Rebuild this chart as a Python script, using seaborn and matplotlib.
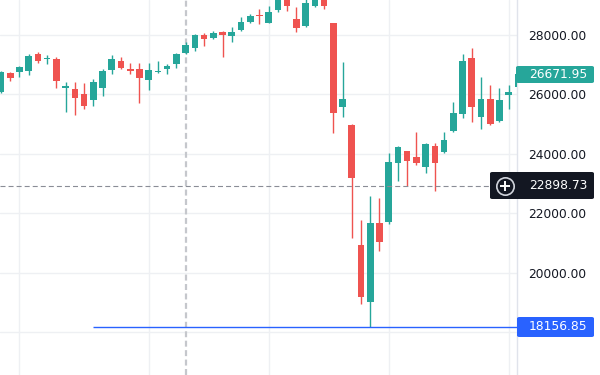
import matplotlib
matplotlib.use("Agg")
import matplotlib.pyplot as plt
from matplotlib.patches import FancyBboxPatch
from matplotlib.lines import Line2D
import seaborn as sns

# OHLC (one value per candle, left to right)
opens = [26080, 26718, 26752, 26786, 27359, 27180, 27190, 26230, 26178, 26010,
         25807, 26212, 26819, 27123, 26853, 26853, 26482, 26740, 26853, 27022,
         27393, 27562, 28000, 27899, 28101, 27966, 28169, 28438, 28650, 28405,
         28843, 29300, 28540, 28304, 28978, 29280, 28405, 25571, 24964, 20917,
         18994, 21659, 21693, 23682, 24087, 23885, 23548, 24256, 24054, 24762,
         25335, 27224, 25234, 25841, 25099, 25976, 26246]
highs = [26790, 26752, 26940, 27359, 27427, 27325, 27258, 26415, 26415, 26381,
         26516, 26853, 27325, 27258, 27056, 27056, 27056, 27123, 27022, 27393,
         27764, 28034, 28067, 28135, 28120, 28270, 28607, 28708, 28877, 28978,
         29400, 29450, 28944, 29250, 29400, 29350, 28420, 27089, 24998, 21760,
         22570, 22502, 24020, 24256, 24100, 24728, 24357, 24357, 24728, 25740,
         27359, 27562, 26583, 26313, 26212, 26313, 26988]
lows = [26040, 26448, 26583, 26651, 27056, 27022, 26212, 25403, 25302, 25504,
        25605, 25942, 26685, 26853, 26685, 25706, 26145, 26718, 26685, 26887,
        27359, 27460, 27629, 27870, 27258, 27764, 28135, 28420, 28371, 28390,
        28776, 28810, 28101, 28270, 28950, 28877, 24695, 25234, 21153, 18927,
        18156.85, 20714, 21650, 23075, 22907, 23615, 23345, 22738, 24030, 24740,
        25201, 25066, 24829, 24964, 25080, 25504, 26200]
closes = [26750, 26550, 26921, 27292, 27123, 27200, 26448, 26260, 25875, 25605,
          26415, 26786, 27190, 26887, 26786, 26550, 26819, 26760, 26954, 27359,
          27663, 28000, 27865, 28067, 28000, 28101, 28438, 28641, 28630, 28776,
          29250, 28978, 28236, 29079, 29300, 28978, 25369, 25841, 23177, 19163,
          21659, 21018, 23716, 24222, 23750, 23682, 24323, 23682, 24458, 25369,
          27123, 25571, 25841, 24998, 25807, 26077, 26671.95]

price_ticks = [18000, 20000, 22000, 24000, 26000, 28000]
period_lines = [2, 16, 29, 42, 55]
last_price = 26671.95
cross_price = 22898.73
cross_idx = 20
low_price = 18156.85
low_line_start = 10

GREEN = "#26a69a"
RED = "#ef5350"

sns.set_theme(style="white")
plt.rcParams["font.family"] = ["DejaVu Sans"]
plt.rcParams["lines.scale_dashes"] = False

fig = plt.figure(figsize=(6, 3.75), dpi=100)
fig.patch.set_facecolor("white")
ax = fig.add_axes([0, 0, 517 / 600, 1])

idx = list(range(len(opens)))
colors = [GREEN if c >= o else RED for o, c in zip(opens, closes)]
bottoms = [min(o, c) for o, c in zip(opens, closes)]
heights = [max(abs(c - o), 40) for o, c in zip(opens, closes)]

ax.vlines(idx, lows, highs, colors=colors, lw=1, zorder=3)
ax.bar(idx, heights, bottom=bottoms, width=0.72, color=colors, lw=0, zorder=4)

ax.set_xlim(-0.11, 55.9)
ax.set_ylim(16552, 29178)

ax.set_xticks(period_lines)
ax.set_xticklabels([])
ax.set_yticks(price_ticks)
ax.set_yticklabels(["" if v == 18000 else f"{v:.2f}" for v in price_ticks])
ax.yaxis.tick_right()
ax.tick_params(axis="y", length=0, pad=8, labelsize=8.8, colors="#131722")
ax.tick_params(axis="x", length=0)
ax.grid(True, color="#eef0f3", lw=1, zorder=0)
ax.set_axisbelow(True)
for s in ["top", "left", "bottom"]:
    ax.spines[s].set_visible(False)
ax.spines["right"].set_color("#e0e3eb")
ax.spines["right"].set_linewidth(1)

# crosshair
ax.axvline(cross_idx, color="#c5c7cc", lw=1.6, ls=(0, (4.3, 2.5)), zorder=2)
ax.axhline(cross_price, xmax=490 / 517, color="#8a8d96", lw=0.8,
           ls=(0, (3.6, 2.2)), zorder=5)

# low marker line
ax.hlines(low_price, low_line_start, 56, color="#2962ff", lw=1.0, zorder=5)


def price_box(x0, y0, x1, y1, color, text):
    fig.add_artist(FancyBboxPatch((x0 / 600, 1 - y1 / 375), (x1 - x0) / 600, (y1 - y0) / 375,
                                  boxstyle="round,pad=0,rounding_size=0.004",
                                  transform=fig.transFigure, fc=color, ec="none", zorder=10))
    fig.text(529 / 600, 1 - (y0 + y1) / 2 / 375, text, color="white", fontsize=8.8,
             va="center", ha="left", zorder=11)


price_box(516, 66, 594, 83, GREEN, f"{last_price:.2f}")
price_box(490, 172, 594, 199, "#131722", f"{cross_price:.2f}")
price_box(517, 317, 594, 337, "#2962ff", f"{low_price:.2f}")

fig.add_artist(Line2D([505 / 600], [1 - 186 / 375], marker="o", markersize=12.5,
                      mfc="none", mec="#d1d4dc", mew=1.2, transform=fig.transFigure, zorder=12))
fig.add_artist(Line2D([505 / 600], [1 - 186 / 375], marker="+", markersize=7,
                      mec="white", mew=1.4, transform=fig.transFigure, zorder=12))

fig.savefig("out.png", dpi=100, facecolor="white")
